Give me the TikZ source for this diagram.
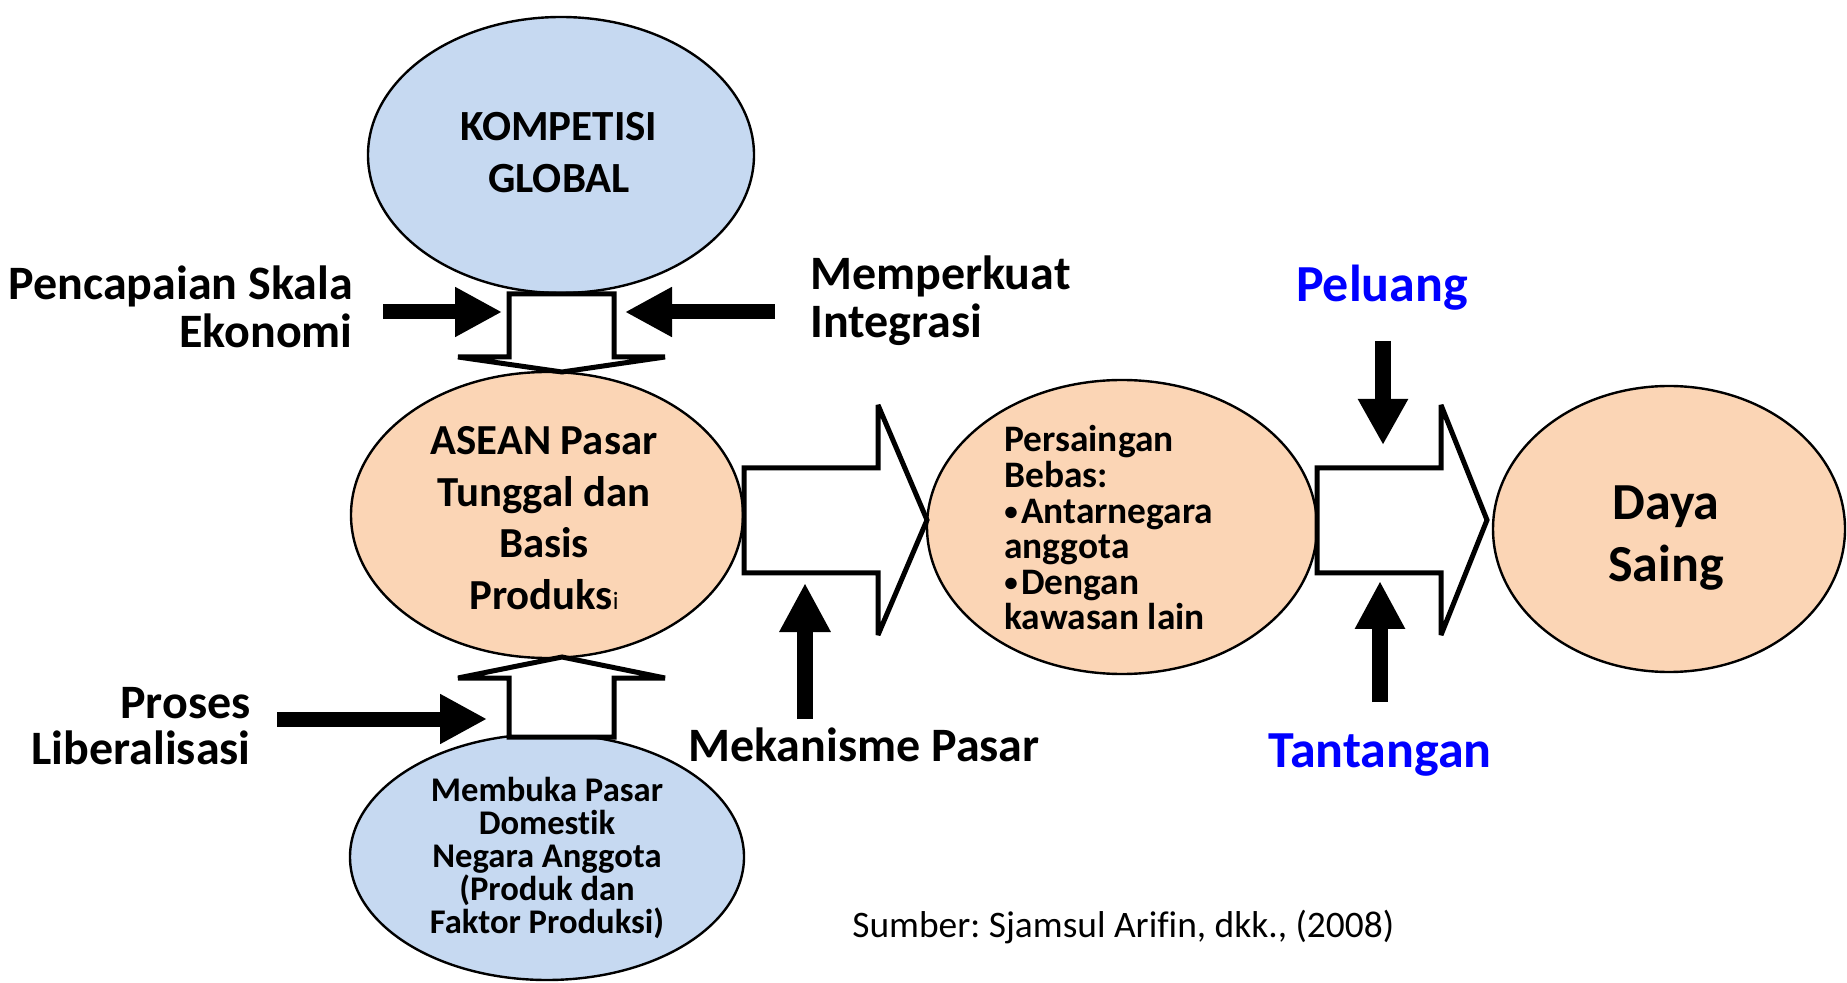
\documentclass[tikz,border=0pt]{standalone}
\usepackage{fontspec}
\setmainfont{Carlito}[Ligatures=NoCommon]
\usetikzlibrary{shapes.geometric,arrows.meta}
\definecolor{lblue}{RGB}{198,217,241}
\definecolor{lorange}{RGB}{251,213,181}
\definecolor{tblue}{RGB}{0,0,255}
\newcommand\mybul{\raisebox{1.5pt}{\fontsize{13.5}{13.5}\selectfont •}\hspace{1.6pt}}
\frenchspacing
\begin{document}
\begin{tikzpicture}[x=0.5pt,y=-0.5pt,
  ell/.style={ellipse,draw=black,line width=1.2pt,inner sep=0pt},
  hollow/.style={draw=black,fill=white,line width=2.5pt,miter limit=3},
  blk/.style={line width=7.5pt,-{Triangle[length=23.5pt,width=23.5pt]}},
  lbl/.style={font=\fontsize{24}{24}\selectfont\bfseries,inner sep=0pt},
  big/.style={font=\fontsize{26}{31}\selectfont\bfseries,inner sep=0pt},
]
\useasboundingbox[fill=white] (0,0) rectangle (1847,983);

% ellipses
\node[ell,fill=lblue,minimum width=193pt,minimum height=138pt] (kg) at (561,155) {};
\node[ell,fill=lorange,minimum width=196pt,minimum height=143pt] (asean) at (547,515) {};
\node[ell,fill=lblue,minimum width=197pt,minimum height=123pt] (buka) at (547,857) {};
\node[ell,fill=lorange,minimum width=195pt,minimum height=147pt] (saing) at (1122,527) {};
\node[ell,fill=lorange,minimum width=176pt,minimum height=143pt] (daya) at (1669,529) {};

% hollow block arrows
\draw[hollow] (509,294) -- (614,294) -- (614,357) -- (665,357) -- (562,372) -- (458,357) -- (509,357) -- cycle;
\draw[hollow] (509,737) -- (614,737) -- (614,678) -- (665,678) -- (562,657) -- (458,678) -- (509,678) -- cycle;
\draw[hollow] (744,468) -- (878,468) -- (878,405) -- (927,520) -- (878,635) -- (878,573) -- (744,573) -- cycle;
\draw[hollow] (1317,468) -- (1441,468) -- (1441,405) -- (1487,520) -- (1441,635) -- (1441,573) -- (1317,573) -- cycle;

% black arrows
\coordinate (p1) at (383,312); \coordinate (p2) at (502,312);
\coordinate (m1) at (775,312); \coordinate (m2) at (625,312);
\coordinate (l1) at (277,719); \coordinate (l2) at (487,719);
\coordinate (k1) at (805,719); \coordinate (k2) at (805,583);
\coordinate (u1) at (1383,341); \coordinate (u2) at (1383,445);
\coordinate (t1) at (1380,702); \coordinate (t2) at (1380,581);
\draw[blk] (p1) -- (p2);
\draw[blk] (m1) -- (m2);
\draw[blk] (l1) -- (l2);
\draw[blk,line width=8pt,-{Triangle[length=24.5pt,width=24pt]}] (k1) -- (k2);
\draw[blk,line width=8pt,-{Triangle[length=23pt,width=23.5pt]}] (u1) -- (u2);
\draw[blk,line width=8pt,-{Triangle[length=24pt,width=23.5pt]}] (t1) -- (t2);

% texts
\node[align=center,inner sep=0pt,font=\fontsize{21.5}{26}\selectfont\bfseries] (kgt) at (559,153) {KOMPETISI\\GLOBAL};
\node[align=center,inner sep=0pt,font=\fontsize{21.4}{25.75}\selectfont\bfseries] (aseant) at (544,518) {ASEAN Pasar\\Tunggal dan\\Basis\\Produks{\fontsize{12.5}{12}\selectfont\mdseries i}};
\node[align=center,inner sep=0pt,font=\fontsize{17.3}{16.5}\selectfont\bfseries] (bukat) at (547,858) {Membuka Pasar\\Domestik\\Negara Anggota\\(Produk dan\\Faktor Produksi)};
\node[align=left,anchor=west,inner sep=0pt,font=\fontsize{18.7}{17.8}\selectfont\bfseries] (saingt) at (1004,528) {Persaingan\\Bebas:\\\mybul Antarnegara\\anggota\\\mybul Dengan\\kawasan lain};
\node[big,align=center] (dayat) at (1666,538) {Daya\\Saing};

\node[lbl,align=right,anchor=east] (pencap) at (353,307) {Pencapaian Skala\\Ekonomi};
\node[lbl,align=left,anchor=west] (memper) at (810,301) {Memperkuat\\Integrasi};
\node[lbl,align=right,anchor=east,font=\fontsize{24}{23}\selectfont\bfseries] (proses) at (251,726) {Proses\\Liberalisasi};
\node[lbl] (mekan) at (864,745) {Mekanisme Pasar};
\node[big,text=tblue] (peluang) at (1382,288) {Peluang};
\node[big,text=tblue] (tantang) at (1380,755) {Tantangan};
\node[inner sep=0pt,anchor=west,font=\fontsize{18.7}{20}\selectfont] (sumber) at (852,927) {Sumber: Sjamsul Arifin, dkk., (2008)};
\end{tikzpicture}
\end{document}
